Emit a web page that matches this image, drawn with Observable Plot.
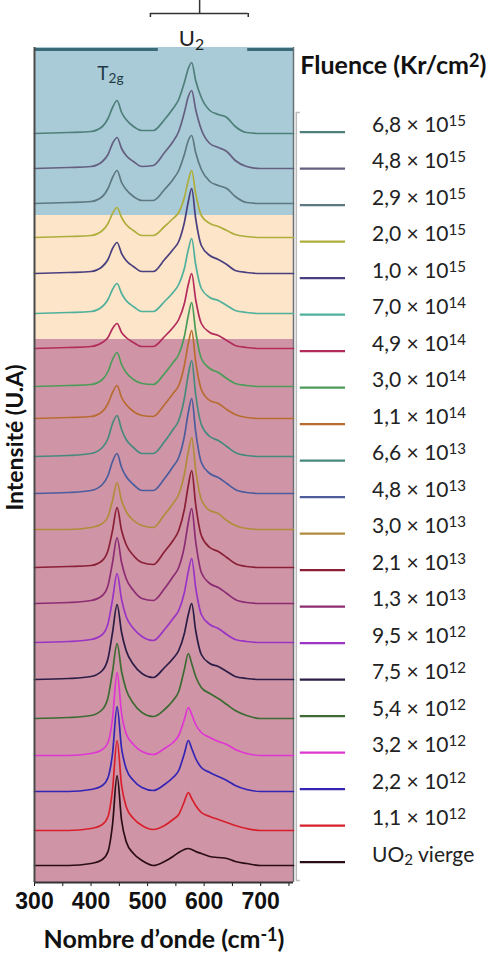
<!DOCTYPE html>
<html><head><meta charset="utf-8">
<script src="https://cdn.jsdelivr.net/npm/d3@7"></script>
<script src="https://cdn.jsdelivr.net/npm/@observablehq/plot@0.6"></script>
<style>
html,body{margin:0;padding:0;background:#fff;}
#chart{width:491px;height:966px;overflow:hidden;}
</style></head><body><div id="chart"></div>
<script>
// Series labels, bottom (vierge) to top
const fluences = ["UO_{2} vierge","1,1 × 10^{12}","2,2 × 10^{12}","3,2 × 10^{12}","5,4 × 10^{12}","7,5 × 10^{12}","9,5 × 10^{12}","1,3 × 10^{13}","2,1 × 10^{13}","3,0 × 10^{13}","4,8 × 10^{13}","6,6 × 10^{13}","1,1 × 10^{14}","3,0 × 10^{14}","4,9 × 10^{14}","7,0 × 10^{14}","1,0 × 10^{15}","2,0 × 10^{15}","2,9 × 10^{15}","4,8 × 10^{15}","6,8 × 10^{15}"];
// Raman shift (cm-1) at which intensities are read
const wavenumbers = [300,360,400,420,430,438,446,454,462,475,490,510,530,545,555,565,572,578,585,595,610,625,640,655,675,700,758];
// Vertical offset of each spectrum (a.u.)
const offsets = [0,35,74,110,147,186,223,262,298,336,372,409,447,479,517,552,592,628,662,697,732];
// Intensity (a.u.) above each spectrum's own baseline
const s0  = [0,0,2,6,14,41,90,45,24,12,5,0,4,9,13,16,17,16,14,12,9,8,7,4,2,0,0];
const s1  = [0,0,2,6,14,41,90,45,24,12,5,1,5,11,16,29,38,32,25,18,14,11,8,5,2,0,0];
const s2  = [0,0,2,6,14,38,85,43,23,11,4,1,7,14,21,38,51,43,33,24,19,15,11,6,2,0,0];
const s3  = [0,0,2,6,13,37,83,42,22,11,4,1,7,13,20,36,48,41,31,23,18,14,11,6,2,0,0];
const s4  = [0,1,3,9,21,47,75,47,29,15,6,2,9,18,27,49,65,55,42,31,25,20,14,8,3,0,0];
const s5  = [0,1,3,9,21,47,75,47,29,15,6,2,12,21,29,46,65,76,49,25,16,13,8,3,1,0,0];
const s6  = [0,1,3,8,19,43,69,43,26,14,6,2,13,24,32,50,71,84,55,28,18,14,8,3,1,0,0];
const s7  = [0,1,3,8,18,41,66,41,25,13,5,3,15,27,36,57,81,95,62,31,20,16,10,4,1,0,0];
const s8  = [0,1,2,7,17,37,60,37,23,12,5,3,16,27,37,58,82,97,63,32,20,16,10,4,1,0,0];
const s9  = [0,0,2,6,13,29,47,29,18,9,4,2,15,26,35,55,78,92,60,30,19,16,9,4,1,0,0];
const s10 = [0,1,3,9,18,32,40,26,17,9,3,3,15,27,36,57,81,95,62,31,20,16,10,4,1,0,0];
const s11 = [0,1,3,9,18,33,41,27,17,9,3,3,15,27,36,58,82,96,62,32,20,16,10,4,1,0,0];
const s12 = [0,1,2,7,15,26,33,21,14,7,3,2,14,25,33,53,75,88,57,29,18,15,9,4,1,0,0];
const s13 = [0,1,2,7,15,27,34,22,14,7,3,2,13,24,32,50,71,84,55,28,18,14,8,3,1,0,0];
const s14 = [0,1,2,6,11,20,25,16,11,6,2,2,12,21,29,45,64,75,49,25,16,13,8,3,1,0,0];
const s15 = [0,1,2,7,14,24,30,20,13,7,2,2,12,21,29,45,64,75,49,25,16,13,8,3,1,0,0];
const s16 = [0,1,2,7,14,25,31,20,13,7,2,2,14,24,32,51,72,85,55,28,18,14,9,3,1,0,0];
const s17 = [0,1,2,7,14,24,30,20,13,7,2,2,11,19,25,40,57,67,44,22,14,11,7,3,1,0,0];
const s18 = [0,1,2,7,15,26,33,21,14,7,3,3,14,24,33,49,63,68,51,34,22,18,15,7,1,0,0];
const s19 = [0,1,2,7,14,25,31,20,13,7,2,3,16,27,37,56,72,78,59,39,25,21,17,8,2,0,0];
const s20 = [0,1,2,7,15,26,33,21,14,7,3,3,14,25,34,51,65,71,53,36,23,19,16,7,1,0,0];
const spectra = [s0,s1,s2,s3,s4,s5,s6,s7,s8,s9,s10,s11,s12,s13,s14,s15,s16,s17,s18,s19,s20];
// Fluence regimes (shaded bands), in a.u.
const bandLow  = [-17, 526, 650];
const bandHigh = [526, 650, 818];
// x axis ticks
const xTicks = [300,350,400,450,500,550,600,650,700,750];
const xTickLabels = ["300","","400","","500","","600","","700",""];

// styles
const colors = ["#2a0d16","#d8202c","#3424b4","#de36d2","#3e6a33","#2b1d45","#9a34c4","#8c2c72","#8a1f36","#b08c3c","#4c5c9c","#47897c","#b86c32","#4d9b58","#b22c5c","#4fb09c","#4a4080","#aeae3c","#5d7880","#655f80","#4f7f7a"];
const bandColors = ["#cf95a7","#fde5c9","#a9cbd8"];
const FONT = "Lato, 'Open Sans', sans-serif";

const rows = spectra.flatMap((s, i) => wavenumbers.map((wn, j) => ({wn, v: s[j] + offsets[i], label: fluences[i]})));
const legendRows = fluences.map((label, i) => ({label, ly: 3.3 + i * 36.5}));

const plot = Plot.plot({
  width: 491, height: 966,
  marginLeft: 34, marginRight: 198, marginTop: 47, marginBottom: 84,
  x: {domain: [300, 758], ticks: xTicks, tickFormat: d => xTickLabels[xTicks.indexOf(d)], tickSize: 4, tickPadding: 6, label: null},
  y: {domain: [-17, 818], axis: null},
  color: {domain: fluences, range: colors},
  style: {fontFamily: "'Liberation Sans', Arial, sans-serif", fontSize: "23px", fontWeight: "bold", color: "#111", background: "white"},
  marks: [
    ...bandLow.map((lo, i) => Plot.rect([i], {x1: () => 300, x2: () => 758, y1: () => lo, y2: () => bandHigh[i], fill: bandColors[i]})),
    Plot.ruleY([816], {x1: 300, x2: 519, stroke: "#3a6a78", strokeWidth: 3}),
    Plot.ruleY([816], {x1: 677, x2: 758, stroke: "#3a6a78", strokeWidth: 3}),
    Plot.ruleX([758], {y1: -17, y2: 818, stroke: "#6a6f75", strokeWidth: 1.5}),
    Plot.line(rows, {x: "wn", y: "v", z: "label", stroke: "label", strokeWidth: 1.7, curve: "monotone-x"}),
    Plot.ruleX([300], {y1: -17, y2: 818, stroke: "#4a4a4a", strokeWidth: 2}),
    Plot.ruleY([-17], {x1: 300, x2: 758, stroke: "#333", strokeWidth: 2}),
    // legend bracket
    Plot.ruleX([763], {y1: -15, y2: 753, stroke: "#bbb", strokeWidth: 1.5}),
    Plot.ruleY([753, -15], {x1: 763, x2: 770, stroke: "#bbb", strokeWidth: 1.5}),
    // legend
    Plot.ruleY(legendRows, {y: "ly", x1: 770, x2: 850, stroke: "label", strokeWidth: 2.2}),
    Plot.text(legendRows, {x: 897, y: "ly", dy: -7, text: "label", textAnchor: "start", fontSize: 21, fontWeight: "normal", fontFamily: FONT, fill: "#222"}),
    Plot.text(["Fluence (Kr/cm^{2})"], {x: 770, y: 800, text: d => d, textAnchor: "start", fontSize: 25, fontWeight: "bold", fontFamily: FONT, fill: "#111"}),
    // peak annotations
    Plot.text(["T_{2g}"], {x: 411, y: 792, text: d => d, textAnchor: "start", fontSize: 19, fontWeight: "normal", fontFamily: FONT, fill: "#1f3a44"}),
    Plot.text(["U_{2}"], {x: 555, y: 827, text: d => d, textAnchor: "start", fontSize: 22, fontWeight: "normal", fontFamily: FONT, fill: "#222"}),
    Plot.ruleY([852], {x1: 505, x2: 678, stroke: "#333", strokeWidth: 1.5}),
    Plot.ruleX([505, 678], {y1: 848, y2: 852, stroke: "#333", strokeWidth: 1.5}),
    Plot.ruleX([592], {y1: 852, y2: 866, stroke: "#333", strokeWidth: 1.5}),
    // axis titles
    Plot.text(["Intensité (U.A)"], {x: () => 266, y: () => 428, rotate: -90, text: d => d, fontSize: 23, fontWeight: "bold", fontFamily: FONT, fill: "#111"}),
    Plot.text(["Nombre d’onde (cm^{-1})"], {frameAnchor: "bottom", dy: 65, text: d => d, fontSize: 25, fontWeight: "bold", fontFamily: FONT, fill: "#111"})
  ]
});

// turn ^{..} / _{..} into super/subscript tspans
plot.querySelectorAll("text").forEach(t => {
  const s = t.textContent;
  if (!/[\^_]\{/.test(s)) return;
  while (t.firstChild) t.removeChild(t.firstChild);
  const re = /([\^_])\{([^}]*)\}|([^\^_]+)/g;
  let m;
  while ((m = re.exec(s))) {
    const ts = document.createElementNS("http://www.w3.org/2000/svg", "tspan");
    if (m[3]) ts.textContent = m[3];
    else {
      ts.textContent = m[2];
      ts.setAttribute("font-size", "72%");
      ts.setAttribute("baseline-shift", m[1] === "^" ? "38%" : "-22%");
    }
    t.appendChild(ts);
  }
});
document.getElementById("chart").appendChild(plot);
</script>
</body></html>
